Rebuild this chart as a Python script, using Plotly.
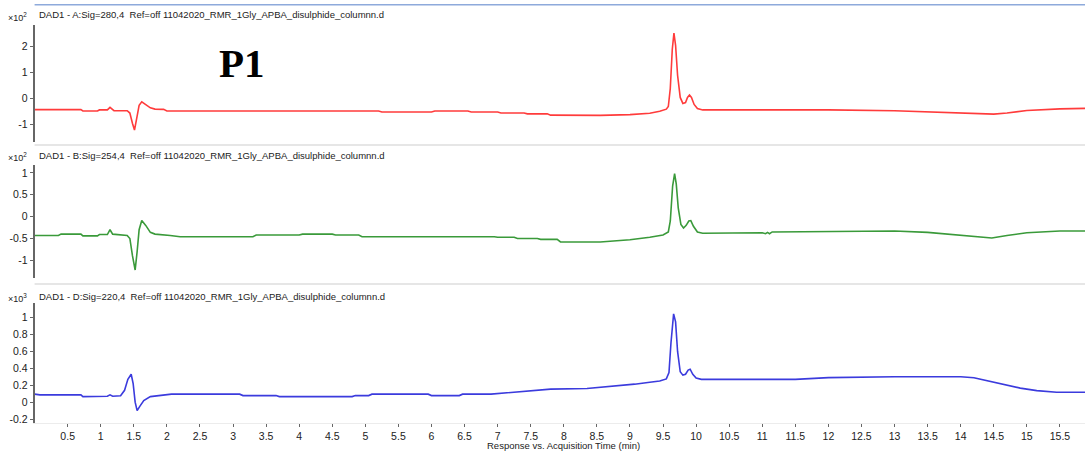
import plotly.graph_objects as go

W, H = 1085, 453

# ---- chromatogram data (time in min) ----
time_a = [0.0, 0.70, 0.73, 0.95, 0.98, 1.10, 1.14, 1.18, 1.20, 1.40, 1.44, 1.48, 1.51, 1.54, 1.58,
          1.62, 1.68, 1.75, 1.82, 1.95, 2.0, 5.2, 5.25, 6.0, 6.05, 6.55, 6.6, 7.0, 7.05, 7.4, 7.45,
          7.75, 7.8, 8.55, 9.0, 9.3, 9.45, 9.55, 9.58, 9.61, 9.64, 9.665, 9.69, 9.72, 9.76, 9.80,
          9.84, 9.87, 9.90, 9.93, 9.97, 10.02, 10.10, 12.0, 13.0, 13.5, 14.0, 14.5, 14.7, 15.0,
          15.5, 15.9]
sig_a = [-0.42, -0.42, -0.47, -0.47, -0.43, -0.43, -0.33, -0.43, -0.46, -0.46, -0.55, -0.95, -1.20,
         -0.80, -0.25, -0.12, -0.22, -0.35, -0.40, -0.41, -0.47, -0.47, -0.51, -0.51, -0.47, -0.47,
         -0.51, -0.51, -0.55, -0.55, -0.58, -0.58, -0.63, -0.64, -0.61, -0.56, -0.48, -0.40, -0.30,
         0.40, 1.90, 2.52, 2.05, 0.90, 0.05, -0.18, -0.15, 0.05, 0.14, 0.05, -0.22, -0.38, -0.43,
         -0.43, -0.46, -0.50, -0.55, -0.59, -0.55, -0.45, -0.39, -0.37]

time_b = [0.0, 0.36, 0.40, 0.70, 0.73, 0.95, 0.98, 1.10, 1.14, 1.18, 1.40, 1.44, 1.48, 1.52, 1.55,
          1.58, 1.62, 1.68, 1.75, 1.82, 2.05, 2.2, 3.3, 3.35, 4.0, 4.05, 4.5, 4.55, 4.9, 4.95, 6.95,
          7.0, 7.25, 7.3, 7.6, 7.65, 7.9, 7.95, 8.55, 9.0, 9.3, 9.5, 9.58, 9.61, 9.645, 9.675, 9.70,
          9.73, 9.77, 9.81, 9.85, 9.89, 9.92, 9.96, 10.02, 10.10, 11.0, 11.05, 11.08, 11.11, 11.15,
          12.0, 13.0, 13.5, 14.0, 14.47, 14.7, 15.0, 15.5, 15.9]
sig_b = [-0.43, -0.43, -0.40, -0.40, -0.44, -0.44, -0.41, -0.41, -0.30, -0.40, -0.43, -0.50, -0.90,
         -1.22, -0.80, -0.30, -0.09, -0.20, -0.36, -0.40, -0.43, -0.46, -0.46, -0.42, -0.42, -0.40,
         -0.40, -0.42, -0.42, -0.46, -0.46, -0.47, -0.47, -0.50, -0.50, -0.52, -0.52, -0.58, -0.58,
         -0.53, -0.47, -0.42, -0.35, -0.10, 0.70, 0.98, 0.75, 0.20, -0.18, -0.26, -0.20, -0.10,
         -0.09, -0.22, -0.35, -0.38, -0.37, -0.39, -0.36, -0.39, -0.35, -0.34, -0.33, -0.36, -0.42,
         -0.49, -0.43, -0.37, -0.33, -0.33]

time_d = [0.0, 0.08, 0.70, 0.73, 1.10, 1.14, 1.18, 1.30, 1.36, 1.41, 1.46, 1.49, 1.52, 1.55, 1.59,
          1.65, 1.75, 1.97, 2.07, 3.10, 3.15, 3.65, 3.70, 4.80, 4.85, 5.05, 5.1, 5.95, 6.0, 6.42,
          6.47, 6.9, 7.3, 7.8, 8.35, 8.55, 9.07, 9.3, 9.45, 9.55, 9.59, 9.62, 9.66, 9.69, 9.72,
          9.76, 9.80, 9.84, 9.88, 9.91, 9.95, 10.0, 10.08, 11.5, 12.0, 13.0, 14.0, 14.2, 14.5,
          14.9, 15.15, 15.45, 15.9]
sig_d = [0.095, 0.086, 0.086, 0.066, 0.070, 0.086, 0.070, 0.075, 0.14, 0.27, 0.33, 0.22, 0.00,
         -0.10, -0.05, 0.02, 0.066, 0.086, 0.095, 0.095, 0.078, 0.078, 0.066, 0.066, 0.078, 0.078,
         0.095, 0.095, 0.078, 0.078, 0.095, 0.095, 0.118, 0.154, 0.161, 0.173, 0.213, 0.235, 0.25,
         0.275, 0.35, 0.70, 1.045, 0.95, 0.60, 0.36, 0.32, 0.33, 0.38, 0.39, 0.33, 0.285, 0.27,
         0.27, 0.29, 0.30, 0.30, 0.29, 0.24, 0.166, 0.137, 0.118, 0.118]

headers = [
    "DAD1 - A:Sig=280,4  Ref=off 11042020_RMR_1Gly_APBA_disulphide_columnn.d",
    "DAD1 - B:Sig=254,4  Ref=off 11042020_RMR_1Gly_APBA_disulphide_columnn.d",
    "DAD1 - D:Sig=220,4  Ref=off 11042020_RMR_1Gly_APBA_disulphide_columnn.d",
]
exponents = ["2", "2", "3"]

ticks_a = [-1, 0, 1, 2]
ticks_b = [-1, -0.5, 0, 0.5, 1]
ticks_d = [-0.2, 0, 0.2, 0.4, 0.6, 0.8, 1]
x_ticks = [0.5 * k for k in range(1, 32)]
x_tick_text = [("%g" % v) for v in x_ticks]

colors = ["#ff3b3b", "#3a9a3a", "#3b3bdd"]


def px(x):
    return x / W


def py(y):
    return 1 - y / H


x_left = 34.6
x_range = [0, (W - x_left) / 66.15]

panels = [
    # (top px, bottom px, y range, ticks)
    (25.0, 141.7, [-1.65, 2.83], ticks_a),
    (165.0, 278.3, [-1.41, 1.18], ticks_b),
    (303.3, 423.3, [-0.25, 1.17], ticks_d),
]
series = [(time_a, sig_a), (time_b, sig_b), (time_d, sig_d)]

fig = go.Figure()
font_family = "Liberation Sans, Arial, sans-serif"

for i, ((t, s), (top, bot, yr, yt)) in enumerate(zip(series, panels)):
    n = "" if i == 0 else str(i + 1)
    fig.add_trace(go.Scatter(x=t, y=s, mode="lines", line=dict(color=colors[i], width=1.6),
                             xaxis="x" + n, yaxis="y" + n, showlegend=False,
                             hoverinfo="skip"))
    is_last = i == 2
    fig.update_layout(**{
        "xaxis" + n: dict(
            domain=[px(x_left), 1], range=x_range, showgrid=False, zeroline=False,
            showline=is_last, linecolor="#ececec", linewidth=1,
            tickmode="array", tickvals=x_ticks if is_last else [],
            ticktext=x_tick_text if is_last else [],
            ticks="outside" if is_last else "", ticklen=3, tickcolor="#666",
            tickfont=dict(family=font_family, size=10.5, color="#222"),
            showticklabels=is_last, anchor="y" + n,
        ),
        "yaxis" + n: dict(
            domain=[py(bot), py(top)], range=yr, showgrid=False, zeroline=False,
            showline=True, linecolor="#666", linewidth=2,
            tickmode="array", tickvals=yt,
            ticktext=[("%g" % v).replace("\u2212", "-") for v in yt],
            ticks="outside", ticklen=3, tickcolor="#666",
            tickfont=dict(family=font_family, size=10.5, color="#222"),
            anchor="x" + n,
        ),
    })

annotations = []
header_y = [15, 155, 296]
for hy, text, ex in zip(header_y, headers, exponents):
    annotations.append(dict(x=px(37), y=py(hy), xref="paper", yref="paper", text=text,
                            showarrow=False, xanchor="left", yanchor="middle",
                            font=dict(family=font_family, size=9.5, color="#222")))
    annotations.append(dict(x=px(17), y=py(hy + 2), xref="paper", yref="paper",
                            text="\u00d710<sup>%s</sup>" % ex, showarrow=False,
                            xanchor="center", yanchor="middle",
                            font=dict(family=font_family, size=9, color="#222")))

annotations.append(dict(x=px(564), y=py(445), xref="paper", yref="paper",
                        text="Response vs. Acquisition Time (min)", showarrow=False,
                        xanchor="center", yanchor="middle",
                        font=dict(family=font_family, size=9.5, color="#222")))
annotations.append(dict(x=px(242), y=py(63), xref="paper", yref="paper", text="<b>P1</b>",
                        showarrow=False, xanchor="center", yanchor="middle",
                        font=dict(family="Liberation Serif, Times New Roman, serif", size=41,
                                  color="#000")))

shapes = [
    dict(type="line", xref="paper", yref="paper", x0=px(x_left), x1=1, y0=py(4.7), y1=py(4.7),
         line=dict(color="#8eaadb", width=1.5)),
    dict(type="line", xref="paper", yref="paper", x0=px(x_left), x1=1, y0=py(145), y1=py(145),
         line=dict(color="#e6e6e6", width=2)),
    dict(type="line", xref="paper", yref="paper", x0=px(x_left), x1=1, y0=py(284), y1=py(284),
         line=dict(color="#e6e6e6", width=2)),
]

fig.update_layout(width=W, height=H, margin=dict(l=0, r=0, t=0, b=0),
                  paper_bgcolor="white", plot_bgcolor="white",
                  annotations=annotations, shapes=shapes)

fig.write_html("out.html")
